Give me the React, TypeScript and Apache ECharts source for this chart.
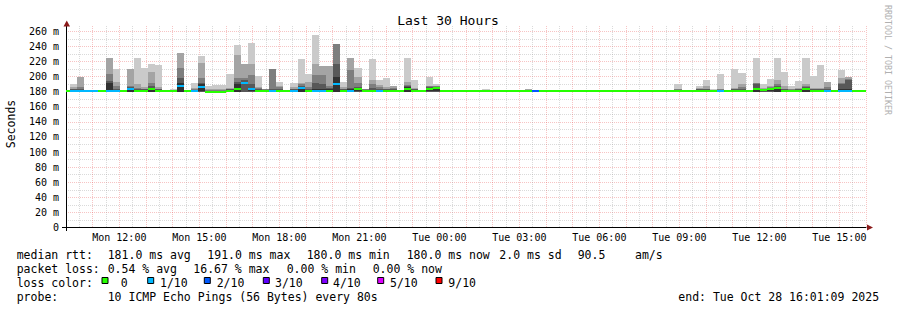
import React, { useEffect, useRef } from 'react';
import * as echarts from 'echarts';

// ---- time base: 16-minute consolidated buckets, hours since Mon 00:00 ----
const BUCKET_HOURS = 16 / 60;
const FIRST_BUCKET_START = 10.15 - BUCKET_HOURS; // Mon ~09:53

// ---- data (seconds shown in ms units), one entry per bucket ----
const medianRtt = [
  181, 181.5, 181.5, 181, 181, 181, 181.5, 181.5, 181, 184,
  181, 181, 184, 181, 181, 181, 187, 181, 181, 186,
  180, 180, 180, 181, 184, 191, 184, 181, 181, 181,
  181, 181, 181, 185, 181, 181, 181, 181, 190, 181,
  181, 184, 181, 181, 181, 181, 181, 181, 184, 181,
  181, 184, 185, 181, 181, 181, 181, 181, 181, 181,
  181, 181, 181, 181, 181, 181, 181, 181, 181, 181,
  181, 181, 181, 181, 181, 181, 181, 181, 181, 181,
  181, 181, 181, 181, 181, 181, 181, 181, 181, 181,
  181, 181, 181, 181, 181, 181, 181, 183, 182, 184,
  185, 181, 181, 181, 183, 181.5, 181, 181, 181, 181,
  181, 181, 181,
];
const lossTenths = [
  0, 1, 1, 1, 1, 0, 1, 1, 0, 1,
  0, 0, 0, 0, 0, 0, 1, 0, 1, 1,
  0, 0, 0, 0, 0, 1, 1, 0, 0, 1,
  0, 0, 1, 1, 0, 1, 1, 0, 1, 0,
  1, 0, 0, 0, 1, 0, 0, 0, 0, 0,
  0, 0, 0, 0, 0, 0, 0, 0, 0, 0,
  0, 0, 0, 0, 0, 0, 2, 0, 0, 0,
  0, 0, 0, 0, 0, 0, 0, 0, 0, 0,
  0, 0, 0, 0, 0, 0, 0, 0, 0, 0,
  0, 0, 1, 0, 0, 0, 0, 0, 0, 0,
  0, 0, 0, 0, 0, 0, 0, 1, 0, 1,
  1, 0, 0,
];
const ping5 = [
  181, 181, 181, 181, 181, 181, 181, 181, 181, 179.5,
  181, 181, 180, 181, 181, 181, 180, 181, 181, 181,
  180, 180, 180, 181, 180, 191, 181, 181, 181, 181,
  181, 181, 181, 179.5, 181, 181, 181, 181, 180, 181,
  181, 181, 181, 181, 181, 181, 181, 181, 179.5, 181,
  181, 181, 181, 181, 181, 181, 181, 181, 181, 181,
  181, 181, 181, 181, 181, 181, 181, 181, 181, 181,
  181, 181, 181, 181, 181, 181, 181, 181, 181, 181,
  181, 181, 181, 181, 181, 181, 181, 181, 181, 181,
  181, 181, 181, 181, 181, 181, 181, 179.5, 181, 181,
  179.5, 181, 181, 181, 179.5, 181, 181, 181, 181, 181,
  181, 181, 181,
];
const ping6 = [
  181, 182, 182, 181, 181, 181, 191, 182, 181, 185,
  182, 182, 185, 182, 181, 181, 191, 181, 182, 190,
  180, 180, 180, 182, 190, 193, 185, 182, 182, 182,
  182, 181, 182, 186, 182, 184, 184, 183, 200, 182,
  183, 185, 182, 182, 182, 182, 182, 181, 186, 182,
  181, 185, 186, 181, 181, 181, 181, 181, 181, 181,
  181, 181, 181, 181, 181, 181, 181, 181, 181, 181,
  181, 181, 181, 181, 181, 181, 181, 181, 181, 181,
  181, 181, 181, 181, 181, 181, 182, 181, 181, 182,
  182, 181, 181, 181, 182, 182, 181, 184, 182, 185,
  186, 182, 182, 182, 184, 182, 182, 182, 181, 183,
  183, 181, 181,
];
const ping7 = [
  181, 183, 183, 181, 181, 181, 194, 184, 181, 186,
  183, 183, 187, 183, 181, 181, 198, 181, 182, 192,
  181, 181, 181, 183, 193, 195, 190, 184, 182, 183,
  184, 181, 183, 188, 184, 191, 190, 185, 217, 183,
  185, 186, 182, 185, 184, 183, 183, 181, 187, 183,
  181, 186, 186, 181, 181, 181, 181, 181, 181, 181,
  181, 181, 181, 181, 181, 181, 181, 181, 181, 181,
  181, 181, 181, 181, 181, 181, 181, 181, 181, 181,
  181, 181, 181, 181, 181, 181, 182, 181, 181, 183,
  183, 181, 182, 181, 183, 183, 181, 190, 183, 185,
  188, 183, 182, 183, 186, 183, 183, 183, 181, 190,
  195, 181, 181,
];
const ping8 = [
  181, 184, 186, 181, 181, 181, 204, 188, 181, 188,
  185, 184, 191, 184, 181, 182, 211, 181, 183, 198,
  182, 182, 182, 184, 198, 198, 202, 185, 183, 210,
  186, 181, 184, 190, 186, 202, 202, 188, 243, 184,
  209, 192, 183, 190, 186, 184, 185, 181, 189, 184,
  181, 187, 187, 181, 181, 181, 181, 181, 181, 182,
  181, 181, 181, 181, 181, 182, 181, 181, 181, 181,
  181, 181, 181, 181, 181, 181, 181, 181, 181, 181,
  181, 181, 181, 181, 181, 181, 183, 181, 181, 184,
  184, 182, 183, 181, 184, 186, 181, 192, 184, 186,
  190, 184, 183, 184, 188, 184, 184, 186, 181, 192,
  197, 181, 181,
];
const ping9 = [
  181, 186, 200, 181, 181, 181, 225, 193, 181, 210,
  190, 186, 206, 186, 181, 182, 231, 181, 185, 218,
  184, 184, 184, 185, 228, 217, 217, 186, 183, 210,
  188, 181, 186, 191, 193, 217, 214, 214, 243, 186,
  224, 200, 183, 196, 189, 186, 188, 181, 193, 185,
  181, 188, 188, 181, 181, 181, 181, 181, 181, 182,
  181, 181, 181, 181, 181, 183, 181, 181, 181, 181,
  181, 181, 181, 181, 181, 181, 181, 181, 181, 181,
  181, 181, 181, 181, 181, 181, 183, 181, 181, 185,
  188, 182, 184, 181, 185, 190, 181, 192, 185, 187,
  195, 187, 184, 185, 190, 185, 185, 193, 181, 198,
  200, 181, 181,
];
const ping10 = [
  181, 190, 200, 181, 181, 181, 225, 210, 181, 210,
  225, 211, 217, 215, 181, 184, 231, 181, 191, 227,
  187, 189, 189, 204, 242, 217, 245, 201, 184, 210,
  193, 181, 191, 223, 203, 255, 214, 214, 243, 193,
  224, 211, 184, 223, 196, 198, 188, 181, 224, 195,
  181, 199, 190, 181, 181, 181, 181, 181, 181, 183.5,
  181, 181, 181, 181, 181, 184, 181, 181, 181, 181,
  181, 181, 181, 181, 181, 181, 181, 181, 181, 181,
  181, 181, 181, 181, 181, 181, 190, 181, 181, 187,
  196, 183, 203, 181, 210, 205, 181, 224, 190, 197,
  224, 206, 187, 194, 225, 201, 215, 193, 181, 209,
  200, 181, 181,
];

// ---- axes ----
const yTickValues = [0, 20, 40, 60, 80, 100, 120, 140, 160, 180, 200, 220, 240, 260];
const xLabelHours = [12, 15, 18, 21, 24, 27, 30, 33, 36, 39];
const dayNames = ['Mon', 'Tue'];

// ---- legend texts ----
const medianStats = ['181.0 ms avg', '191.0 ms max', '180.0 ms min', '180.0 ms now', '2.0 ms sd', '90.5', 'am/s'];
const lossStats = ['0.54 % avg', '16.67 % max', '0.00 % min', '0.00 % now'];
const lossLevels = ['0', '1/10', '2/10', '3/10', '4/10', '5/10', '9/10'];
const lossLevelColors = ['#26ff00', '#00b8ff', '#0059ff', '#5e00ff', '#7e00ff', '#dd00ff', '#ff0000'];
const probeText = '10 ICMP Echo Pings (56 Bytes) every 80s';
const endText = 'end: Tue Oct 28 16:01:09 2025';

// ---- styles / layout ----
const MONO = '"DejaVu Sans Mono", "Liberation Mono", monospace';
const SMOKE_GRAYS = ['#cacaca', '#a4a4a4', '#7e7e7e', '#585858', '#323232'];
const MAJOR_GRID = 'rgba(230, 60, 60, 0.3)';
const MINOR_GRID = 'rgba(150, 150, 150, 0.35)';
const SMOKE_BASE = 180;
const medianStatX = [107.7, 207.3, 306.7, 406.7, 499.3, 577.7, 635];
const lossStatX = [107.7, 193.3, 286.7, 372.7];
const lossBoxX = [102, 147.7, 204.3, 263.3, 321.7, 377.7, 436];
const lossTextX = [120.7, 160, 216.7, 275, 333, 390, 448.3];
const ROW_Y = [254.5, 268.5, 282.5, 296.5];
const LEG_FONT = `11.5px ${MONO}`;

function lossColor(l: number): string {
  if (l <= 0) return lossLevelColors[0];
  if (l <= 1) return lossLevelColors[1];
  if (l <= 2) return lossLevelColors[2];
  if (l <= 3) return lossLevelColors[3];
  if (l <= 4) return lossLevelColors[4];
  if (l <= 8) return lossLevelColors[5];
  return lossLevelColors[6];
}

function hourLabel(v: number): string {
  const day = dayNames[Math.floor(v / 24)];
  const hh = String(v % 24).padStart(2, '0');
  return `${day} ${hh}:00`;
}

const smokeData = medianRtt.map((m, k) => [
  FIRST_BUCKET_START + k * BUCKET_HOURS,
  FIRST_BUCKET_START + (k + 1) * BUCKET_HOURS,
  m, lossTenths[k], ping5[k], ping6[k], ping7[k], ping8[k], ping9[k], ping10[k],
]);

function txt(text: string, x: number, y: number, font = LEG_FONT, extra: any = {}) {
  return {
    type: 'text', x, y, silent: true, z: 100,
    style: { text, font, fill: '#000', align: 'left', verticalAlign: 'middle', ...extra },
  };
}

export default function App() {
  const ref = useRef<HTMLDivElement>(null);
  useEffect(() => {
    if (!ref.current) return;
    const chart = echarts.init(ref.current, null, { renderer: 'svg' });

    const renderItem = (_params: any, api: any) => {
      const t0 = api.value(0);
      const t1 = api.value(1);
      const med = api.value(2);
      const loss = api.value(3);
      const p = [api.value(4), api.value(5), api.value(6), api.value(7), api.value(8), api.value(9)];
      const xa = Math.round(api.coord([t0, 0])[0]);
      const xb = Math.round(api.coord([t1, 0])[0]);
      const Y = (v: number) => Math.round(api.coord([t0, v])[1]);
      const children: any[] = [];
      const band = (lo: number, hi: number, fill: string) => {
        const y1 = Y(hi);
        const y2 = Y(lo);
        if (y2 - y1 <= 0) return;
        children.push({ type: 'rect', shape: { x: xa, y: y1, width: xb - xa, height: y2 - y1 }, style: { fill } });
      };
      band(SMOKE_BASE, p[5], SMOKE_GRAYS[0]);
      band(SMOKE_BASE, p[4], SMOKE_GRAYS[1]);
      band(SMOKE_BASE, p[3], SMOKE_GRAYS[2]);
      band(SMOKE_BASE, p[2], SMOKE_GRAYS[3]);
      band(p[0], p[1], SMOKE_GRAYS[4]);
      const ym = Y(med);
      children.push({ type: 'rect', shape: { x: xa, y: ym - 1, width: xb - xa, height: 2 }, style: { fill: lossColor(loss) } });
      return { type: 'group', children };
    };

    const graphic: any[] = [];
    graphic.push(txt('Last 30 Hours', 448, 20, `13px ${MONO}`, { align: 'center' }));
    graphic.push({ ...txt('Seconds', 11, 124, `11.5px ${MONO}`, { align: 'center' }), rotation: Math.PI / 2 });
    graphic.push({ ...txt('RRDTOOL / TOBI OETIKER', 887.5, 60, `8.3px ${MONO}`, { align: 'center', fill: '#b0b0b0' }), rotation: -Math.PI / 2 });
    // axis arrows and stubs
    graphic.push({ type: 'polygon', silent: true, z: 100, shape: { points: [[63.5, 26.5], [70, 26.5], [66.75, 20.5]] }, style: { fill: '#8b1a1a' } });
    graphic.push({ type: 'polygon', silent: true, z: 100, shape: { points: [[867, 224.5], [867, 230.5], [873, 227.5]] }, style: { fill: '#8b1a1a' } });
    graphic.push({ type: 'line', silent: true, z: 100, shape: { x1: 62, y1: 227.5, x2: 66, y2: 227.5 }, style: { stroke: '#000', lineWidth: 1 } });
    graphic.push({ type: 'line', silent: true, z: 100, shape: { x1: 66.5, y1: 227.5, x2: 66.5, y2: 231 }, style: { stroke: '#000', lineWidth: 1 } });
    // legend row 1
    graphic.push(txt('median rtt:', 16.7, ROW_Y[0]));
    medianStats.forEach((s, i) => graphic.push(txt(s, medianStatX[i], ROW_Y[0])));
    // row 2
    graphic.push(txt('packet loss:', 16.7, ROW_Y[1]));
    lossStats.forEach((s, i) => graphic.push(txt(s, lossStatX[i], ROW_Y[1])));
    // row 3
    graphic.push(txt('loss color:', 16.7, ROW_Y[2]));
    lossLevels.forEach((s, i) => {
      graphic.push({ type: 'rect', silent: true, z: 100, shape: { x: lossBoxX[i], y: 277.5, width: 6, height: 6 }, style: { fill: lossLevelColors[i], stroke: '#000', lineWidth: 1 } });
      graphic.push(txt(s, lossTextX[i], ROW_Y[2]));
    });
    // row 4
    graphic.push(txt('probe:', 16.7, ROW_Y[3]));
    graphic.push(txt(probeText, 107.7, ROW_Y[3]));
    graphic.push(txt(endText, 678.3, ROW_Y[3]));

    const gridLine = (color: string) => ({ show: true, lineStyle: { color, width: 1, type: [1, 1] } });

    chart.setOption({
      animation: false,
      backgroundColor: '#ffffff',
      grid: { left: 66, top: 26, width: 800, height: 201.5, containLabel: false },
      xAxis: {
        type: 'value', min: 10, max: 40, interval: 1,
        axisLine: { show: true, onZero: false, lineStyle: { color: '#000', width: 1 } },
        axisTick: { show: false },
        minorTick: { show: false, splitNumber: 2 },
        axisLabel: {
          customValues: xLabelHours,
          formatter: (v: number) => hourLabel(v),
          fontFamily: MONO, fontSize: 10, color: '#000', margin: 5,
        },
        splitLine: gridLine(MAJOR_GRID),
        minorSplitLine: gridLine(MINOR_GRID),
      },
      yAxis: {
        type: 'value', min: 0, max: 267, interval: 20,
        axisLine: { show: true, onZero: false, lineStyle: { color: '#000', width: 1 } },
        axisTick: { show: false, customValues: yTickValues },
        minorTick: { show: false, splitNumber: 2 },
        axisLabel: {
          customValues: yTickValues,
          formatter: (v: number) => (v === 0 ? '0' : `${v} m`),
          fontFamily: MONO, fontSize: 10, color: '#000', margin: 7,
        },
        splitLine: gridLine(MAJOR_GRID),
        minorSplitLine: gridLine(MINOR_GRID),
      },
      series: [{
        type: 'custom', renderItem, data: smokeData, clip: true, silent: true,
        encode: { x: [0, 1], y: 2 },
      }],
      graphic,
    });
    return () => chart.dispose();
  }, []);
  return <div ref={ref} style={{ position: 'absolute', left: 0, top: 0, width: 897, height: 310 }} />;
}
